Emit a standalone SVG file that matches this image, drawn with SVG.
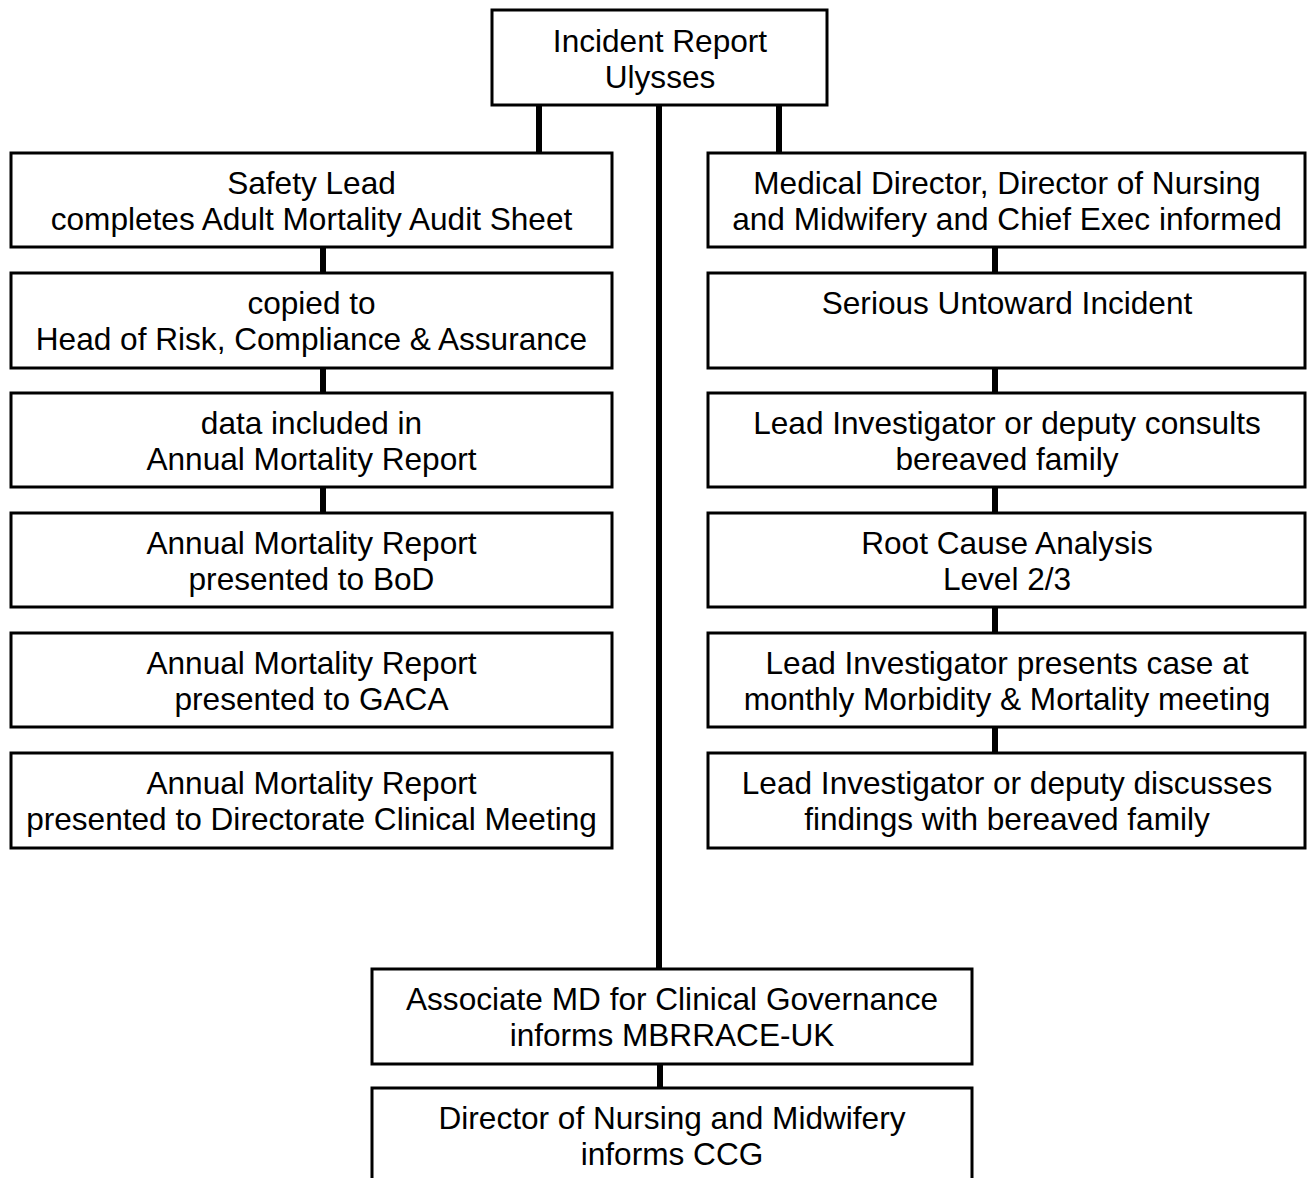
<svg xmlns="http://www.w3.org/2000/svg" width="1307" height="1178" viewBox="0 0 1307 1178">
<style>
.box{fill:#fff;stroke:#000;stroke-width:3}
.t{font-family:"Liberation Sans",Arial,sans-serif;font-size:31.6px;fill:#000;text-anchor:middle}
.c{stroke:#000;stroke-width:6;fill:none}
</style>
<rect x="0" y="0" width="1307" height="1178" fill="#fff"/>
<g id="connectors">
<line class="c" x1="539" y1="105" x2="539" y2="152"/>
<line class="c" x1="779" y1="105" x2="779" y2="152"/>
<line class="c" x1="659" y1="105" x2="659" y2="969"/>
<line class="c" x1="323" y1="247" x2="323" y2="273"/>
<line class="c" x1="323" y1="368" x2="323" y2="393"/>
<line class="c" x1="323" y1="487" x2="323" y2="513"/>
<line class="c" x1="995" y1="247" x2="995" y2="273"/>
<line class="c" x1="995" y1="368" x2="995" y2="393"/>
<line class="c" x1="995" y1="487" x2="995" y2="513"/>
<line class="c" x1="995" y1="607" x2="995" y2="633"/>
<line class="c" x1="995" y1="727" x2="995" y2="753"/>
<line class="c" x1="660" y1="1064" x2="660" y2="1088"/>
</g>
<g id="n-incident">
<rect class="box" x="492" y="10" width="335" height="95"/>
<text class="t" x="660" y="52">Incident Report</text>
<text class="t" x="660" y="88">Ulysses</text>
</g>
<g id="n-safety">
<rect class="box" x="11" y="153" width="601" height="94"/>
<text class="t" x="311.5" y="194">Safety Lead</text>
<text class="t" x="311.5" y="230">completes Adult Mortality Audit Sheet</text>
</g>
<g id="n-copied">
<rect class="box" x="11" y="273" width="601" height="95"/>
<text class="t" x="311.5" y="314">copied to</text>
<text class="t" x="311.5" y="350">Head of Risk, Compliance &amp; Assurance</text>
</g>
<g id="n-data">
<rect class="box" x="11" y="393" width="601" height="94"/>
<text class="t" x="311.5" y="434">data included in</text>
<text class="t" x="311.5" y="470">Annual Mortality Report</text>
</g>
<g id="n-bod">
<rect class="box" x="11" y="513" width="601" height="94"/>
<text class="t" x="311.5" y="554">Annual Mortality Report</text>
<text class="t" x="311.5" y="590">presented to BoD</text>
</g>
<g id="n-gaca">
<rect class="box" x="11" y="633" width="601" height="94"/>
<text class="t" x="311.5" y="674">Annual Mortality Report</text>
<text class="t" x="311.5" y="710">presented to GACA</text>
</g>
<g id="n-dcm">
<rect class="box" x="11" y="753" width="601" height="95"/>
<text class="t" x="311.5" y="794">Annual Mortality Report</text>
<text class="t" x="311.5" y="830">presented to Directorate Clinical Meeting</text>
</g>
<g id="n-md">
<rect class="box" x="708" y="153" width="597" height="94"/>
<text class="t" x="1007" y="194">Medical Director, Director of Nursing</text>
<text class="t" x="1007" y="230">and Midwifery and Chief Exec informed</text>
</g>
<g id="n-sui">
<rect class="box" x="708" y="273" width="597" height="95"/>
<text class="t" x="1007" y="314">Serious Untoward Incident</text>
</g>
<g id="n-consult">
<rect class="box" x="708" y="393" width="597" height="94"/>
<text class="t" x="1007" y="434">Lead Investigator or deputy consults</text>
<text class="t" x="1007" y="470">bereaved family</text>
</g>
<g id="n-rca">
<rect class="box" x="708" y="513" width="597" height="94"/>
<text class="t" x="1007" y="554">Root Cause Analysis</text>
<text class="t" x="1007" y="590">Level 2/3</text>
</g>
<g id="n-mm">
<rect class="box" x="708" y="633" width="597" height="94"/>
<text class="t" x="1007" y="674">Lead Investigator presents case at</text>
<text class="t" x="1007" y="710">monthly Morbidity &amp; Mortality meeting</text>
</g>
<g id="n-findings">
<rect class="box" x="708" y="753" width="597" height="95"/>
<text class="t" x="1007" y="794">Lead Investigator or deputy discusses</text>
<text class="t" x="1007" y="830">findings with bereaved family</text>
</g>
<g id="n-amd">
<rect class="box" x="372" y="969" width="600" height="95"/>
<text class="t" x="672" y="1010">Associate MD for Clinical Governance</text>
<text class="t" x="672" y="1046">informs MBRRACE-UK</text>
</g>
<g id="n-dnm">
<rect class="box" x="372" y="1088" width="600" height="120"/>
<text class="t" x="672" y="1129">Director of Nursing and Midwifery</text>
<text class="t" x="672" y="1165">informs CCG</text>
</g>
</svg>
